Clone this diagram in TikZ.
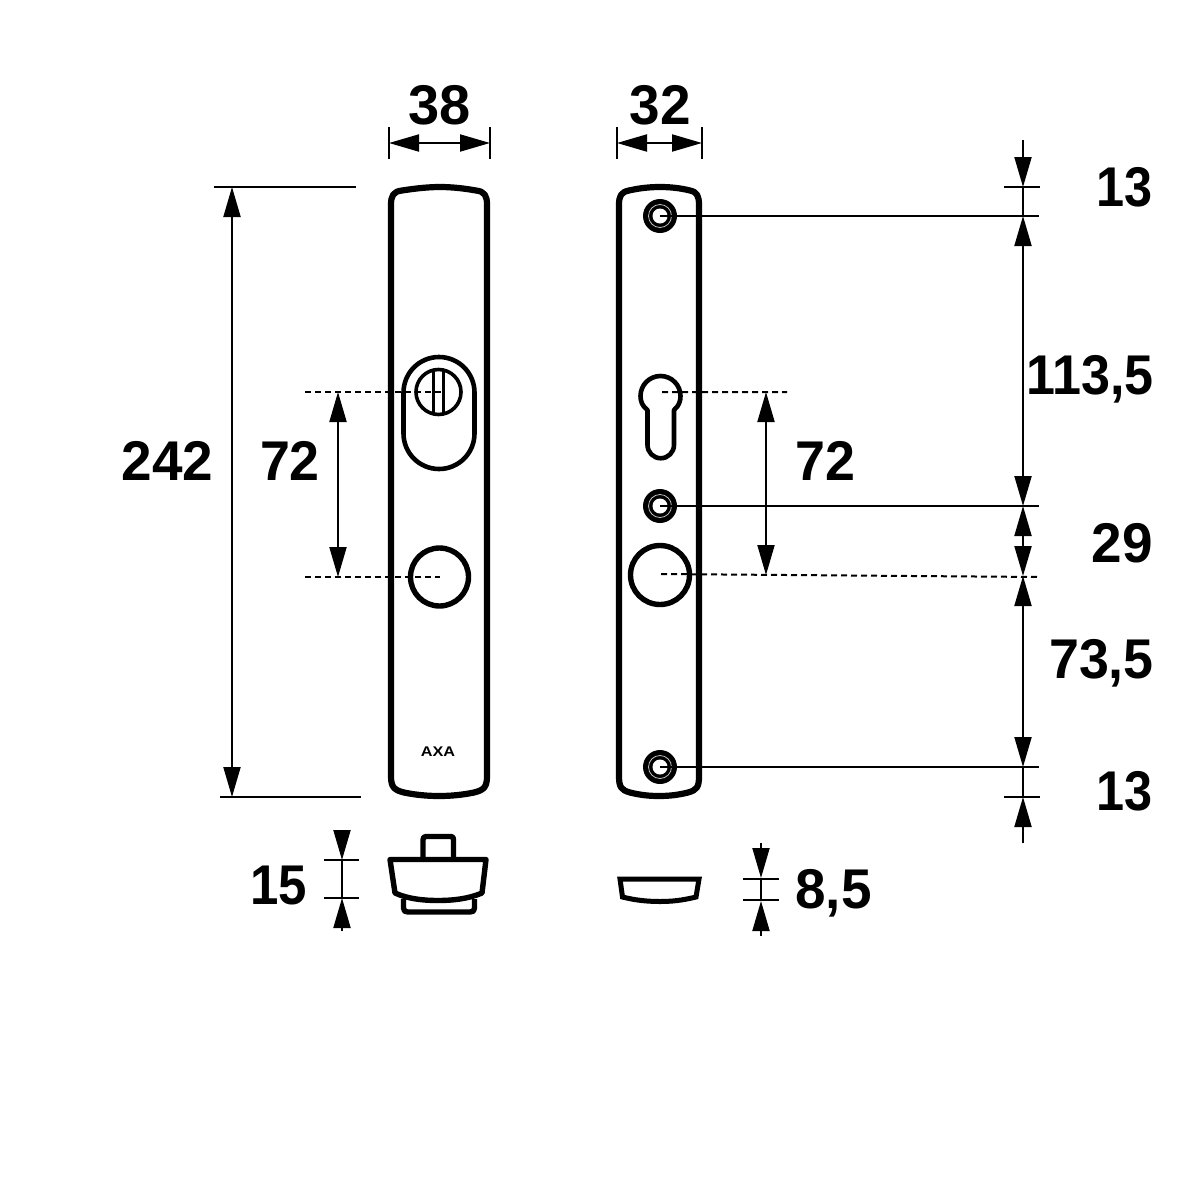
\documentclass[tikz,border=0pt]{standalone}
\usepackage{fontspec}
\setmainfont{Liberation Sans}
\usetikzlibrary{arrows.meta}
\newcommand{\dimnum}[2]{\scalebox{#1}[1]{#2}}
\tikzset{
  x=1pt,y=-1pt,
  plate/.style={line width=6.2pt,line join=round},
  part/.style={line width=4.6pt,line join=round},
  knobline/.style={line width=5.4pt,line join=round},
  thin dim/.style={line width=2pt},
  dimboth/.style={line width=2pt,{Triangle[length=30pt,width=17pt]}-{Triangle[length=30pt,width=17pt]}},
  dimto/.style={line width=2pt,-{Triangle[length=30pt,width=17pt]}},
  hidden/.style={line width=2pt,dash pattern=on 6pt off 4pt},
  dimtext/.style={inner sep=0pt,text depth=0pt,font=\fontsize{56}{56}\selectfont\bfseries},
}
\begin{document}
\begin{tikzpicture}
\useasboundingbox (0,0) rectangle (1181,1181);
% --- left plate
\draw[plate] (391,205) .. controls (391,196) and (393,191.5) .. (402,190.5)
  .. controls (415,188.5) and (428,187) .. (440,187)
  .. controls (452,187) and (465,188.5) .. (476,190.5)
  .. controls (485,191.5) and (487,196) .. (487,205)
  -- (487,776) .. controls (487,787) and (484,790) .. (474,792.5)
  .. controls (462,795) and (450,796) .. (439,796)
  .. controls (428,796) and (416,795) .. (404,792.5)
  .. controls (394,790) and (391,787) .. (391,776) -- cycle;
% cylinder escutcheon
\draw[part] (403.5,392.5) arc[start angle=180,end angle=360,radius=35.5] -- (474.5,433.5)
  arc[start angle=0,end angle=180,radius=35.5] -- cycle;
\draw[line width=3.6pt] (438.5,392) circle[radius=22.5];
\draw[line width=3.6pt] (433.5,370) -- (433.5,415) (443.5,370) -- (443.5,415);
\draw[knobline] (439.5,577) circle[radius=29];
\node[inner sep=0pt] (axa) at (438,752) {\scalebox{1.16}[1]{\fontsize{14}{14}\selectfont\bfseries AXA}};
% --- right plate
\draw[plate] (619,205) .. controls (619,196) and (621,192) .. (629,190.5)
  .. controls (640,188) and (650,187) .. (660,187)
  .. controls (670,187) and (680,188) .. (690,190.5)
  .. controls (697,192) and (699,196) .. (699,205)
  -- (699,776) .. controls (699,787) and (697,790) .. (688,792.5)
  .. controls (678,795) and (669,796) .. (659,796)
  .. controls (649,796) and (640,795) .. (630,792.5)
  .. controls (621,790) and (619,787) .. (619,776) -- cycle;
% keyhole
\draw[part] (647.5,410) .. controls (642,406) and (640.5,401) .. (640.5,396)
  arc[start angle=180,end angle=360,radius=20]
  .. controls (680.5,401) and (679,406) .. (674,410)
  -- (674,445) arc[start angle=0,end angle=180,radius=13.25] -- cycle;
\draw[knobline] (660,575) circle[radius=29.5];
% screws
\foreach \sy/\sn in {216/a,506/b,767/c}{
  \fill (660,\sy) circle[radius=17];
  \draw[white!75!black,line width=0.8pt] (660,\sy) circle[radius=11.5];
  \fill[white] (660,\sy) circle[radius=7.5];
  \coordinate (screw\sn) at (660,\sy);
  \coordinate (screwend\sn) at (1039,\sy);
  \draw[thin dim] (screw\sn) -- (screwend\sn);
}
% --- knob profile
\draw[knobline] (423,859) -- (423,840) .. controls (423,837.5) and (424,836.5) .. (426,836.5)
  -- (451,836.5) .. controls (453,836.5) and (453.5,837.5) .. (453.5,840) -- (453.5,859);
\draw[knobline] (390,859.5) -- (486,859.5) -- (482,893)
  .. controls (468,899) and (452,900.5) .. (438,900.5)
  .. controls (424,900.5) and (408,899) .. (395,893) -- cycle;
\draw[knobline] (403.5,899) -- (403.5,908) .. controls (403.5,911) and (405,912) .. (408,912)
  -- (470,912) .. controls (473,912) and (474.5,911) .. (474.5,908) -- (474.5,899);
% --- small profile
\draw[line width=5pt,line join=miter] (620,879) -- (699,879) -- (696,897)
  .. controls (682,900.5) and (671,901.5) .. (660,901.5)
  .. controls (649,901.5) and (636,900.5) .. (622.5,897) -- cycle;
% --- top width dimensions
\coordinate (wa1) at (389,143); \coordinate (wa2) at (490,143);
\coordinate (wb1) at (617,143); \coordinate (wb2) at (702,143);
\draw[thin dim] (389,127) -- (389,159) (490,127) -- (490,159);
\draw[thin dim] (617,127) -- (617,159) (702,127) -- (702,159);
\draw[dimboth] (wa1) -- (wa2);
\draw[dimboth] (wb1) -- (wb2);
\node[dimtext] (t38) at (440,105) {\dimnum{1}{38}};
\node[dimtext] (t32) at (660.5,105) {\dimnum{.98}{32}};
% --- 242
\coordinate (ha) at (232,187); \coordinate (hb) at (232,797);
\draw[thin dim] (214,187) -- (356,187) (220,797) -- (361,797);
\draw[dimboth] (ha) -- (hb);
\node[dimtext] (t242) at (167.5,461) {\dimnum{.98}{242}};
% --- 72 left
\coordinate (la) at (338,392); \coordinate (lb) at (338,577);
\draw[hidden] (305,392) -- (441,392) (305,577) -- (440,577);
\draw[dimboth] (la) -- (lb);
\node[dimtext] (t72l) at (290,461) {\dimnum{.96}{72}};
% --- 72 right
\coordinate (ra) at (766,392); \coordinate (rb) at (766,575);
\draw[hidden] (662,392) -- (787,392) (661,574) -- (1039,577);
\draw[dimboth] (ra) -- (rb);
\node[dimtext] (t72r) at (825,461) {\dimnum{.96}{72}};
% --- right chain
\coordinate (c0) at (1023,140); \coordinate (c1) at (1023,187);
\coordinate (c2) at (1023,216); \coordinate (c3) at (1023,506);
\coordinate (c4) at (1023,576); \coordinate (c5) at (1023,767);
\coordinate (c6) at (1023,797); \coordinate (c7) at (1023,843);
\draw[thin dim] (1004,187) -- (1040,187) (1004,797) -- (1040,797);
\draw[dimto] (c0) -- (c1);
\draw[thin dim] (c1) -- (c2);
\draw[dimboth] (c2) -- (c3);
\draw[dimboth] (c3) -- (c4);
\draw[dimboth] (c4) -- (c5);
\draw[thin dim] (c5) -- (c6);
\draw[dimto] (c7) -- (c6);
\node[dimtext,anchor=east] (t13a) at (1153,187) {\dimnum{.9}{13}};
\node[dimtext,anchor=east] (t113) at (1154,375) {\dimnum{.93}{113,5}};
\node[dimtext,anchor=east] (t29) at (1153,543) {\dimnum{.98}{29}};
\node[dimtext,anchor=east] (t73) at (1154,659) {\dimnum{.96}{73,5}};
\node[dimtext,anchor=east] (t13b) at (1153,791) {\dimnum{.9}{13}};
% --- 15
\coordinate (fa) at (342,831); \coordinate (fb) at (342,860);
\coordinate (fc) at (342,898); \coordinate (fd) at (342,931);
\draw[thin dim] (324,860) -- (359,860) (324,898) -- (359,898);
\draw[dimto] (fa) -- (fb);
\draw[thin dim] (fb) -- (fc);
\draw[dimto] (fd) -- (fc);
\node[dimtext] (t15) at (279,885) {\dimnum{.91}{15}};
% --- 8,5
\coordinate (ea) at (761,843); \coordinate (eb) at (761,878);
\coordinate (ec) at (761,901); \coordinate (ed) at (761,936);
\draw[thin dim] (743,879) -- (779,879) (743,900) -- (779,900);
\draw[dimto] (ea) -- (eb);
\draw[thin dim] (eb) -- (ec);
\draw[dimto] (ed) -- (ec);
\node[dimtext] (t85) at (833.5,889) {\dimnum{.98}{8,5}};
\end{tikzpicture}
\end{document}
